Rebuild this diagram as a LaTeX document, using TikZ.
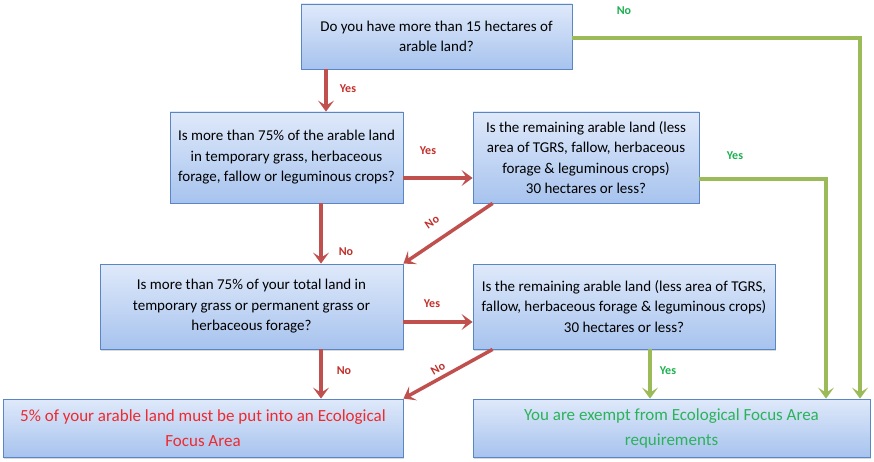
\documentclass[tikz,border=0pt]{standalone}
\usepackage{fontspec}
\setmainfont{Carlito}
\usetikzlibrary{arrows.meta,shadows}

\definecolor{boxtop}{HTML}{DFE9FA}
\definecolor{boxbot}{HTML}{A7C3EE}
\definecolor{boxline}{HTML}{5B86C4}
\definecolor{redarr}{HTML}{C0504D}
\definecolor{greenarr}{HTML}{9BBB59}
\definecolor{redlbl}{HTML}{C0302B}
\definecolor{greenlbl}{HTML}{1DAF50}
\definecolor{redtext}{HTML}{EE2A2F}
\definecolor{greentext}{HTML}{2BB35A}

\tikzset{
    qbox/.style={draw=boxline, line width=0.8pt, top color=boxtop, bottom color=boxbot,
        rectangle, inner sep=0pt, align=center,
        drop shadow={shadow xshift=1pt, shadow yshift=-1.5pt, opacity=0.3},
        font=\fontsize{15}{20.5}\selectfont},
    endbox/.style={qbox, font=\fontsize{17}{25}\selectfont},
    redline/.style={draw=redarr, line width=3.5pt, -{Stealth[length=11pt,width=16pt,inset=5pt]}},
    greenline/.style={draw=greenarr, line width=3.5pt, -{Stealth[length=11pt,width=16pt,inset=5pt]}},
    redlabel/.style={text=redlbl, font=\fontsize{12}{14}\selectfont\bfseries},
    greenlabel/.style={text=greenlbl, font=\fontsize{12}{14}\selectfont\bfseries}
}

\begin{document}
\begin{tikzpicture}[x=1pt, y=-1pt]
    \useasboundingbox (0,0) rectangle (874,462);

    % Draw the question boxes
    \node[qbox, minimum width=271pt, minimum height=65pt] (hect) at (436.5,36.5)
        {Do you have more than 15 hectares of\\arable land?};
    \node[qbox, minimum width=233pt, minimum height=91pt] (arable) at (286.5,157.5)
        {Is more than 75\% of the arable land\\in temporary grass, herbaceous\\forage, fallow or leguminous crops?};
    \node[qbox, minimum width=226pt, minimum height=91pt] (remainA) at (586,157.5)
        {Is the remaining arable land (less\\area of TGRS, fallow, herbaceous\\forage \& leguminous crops)\\30 hectares or less?};
    \node[qbox, minimum width=303pt, minimum height=85pt] (total) at (251.5,306.5)
        {Is more than 75\% of your total land in\\temporary grass or permanent grass or\\herbaceous forage?};
    \node[qbox, minimum width=302pt, minimum height=85pt] (remainB) at (624,306.5)
        {Is the remaining arable land (less area of TGRS,\\fallow, herbaceous forage \& leguminous crops)\\30 hectares or less?};

    % Draw the outcome boxes
    \node[endbox, minimum width=400pt, minimum height=58pt, text=redtext] (efa) at (203,428)
        {5\% of your arable land must be put into an Ecological\\Focus Area};
    \node[endbox, minimum width=397pt, minimum height=58pt, text=greentext] (exempt) at (671.5,428)
        {You are exempt from Ecological Focus Area\\requirements};

    % Draw the red arrows
    \draw[redline] (hect.south -| 326,0) -- (arable.north -| 326,0);
    \draw[redline] (arable.east |- 0,178) -- (remainA.west |- 0,178);
    \draw[redline] (arable.south -| 321,0) -- (total.north -| 321,0);
    \draw[redline] ([xshift=20pt]remainA.south west) -- (total.north east);
    \draw[redline] (total.east |- 0,322) -- (remainB.west |- 0,322);
    \draw[redline] (total.south -| 321,0) -- (efa.north -| 321,0);
    \draw[redline] ([xshift=20pt]remainB.south west) -- (efa.north east);

    % Draw the green arrows
    \draw[greenline] (hect.east |- 0,38) -| (exempt.north -| 860,0);
    \draw[greenline] (remainA.east |- 0,179) -| (exempt.north -| 826,0);
    \draw[greenline] (remainB.south -| 650,0) -- (exempt.north -| 650,0);

    % Arrow labels
    \foreach \name/\pos/\txt/\ang in {yesA/{(348,89)}/Yes/0, yesB/{(428,151)}/Yes/0,
        noA/{(346,252)}/No/0, noB/{(432,222)}/No/34, yesC/{(432,304)}/Yes/0,
        noC/{(344,371)}/No/0, noD/{(438,369)}/No/30}
        \node[redlabel, rotate=\ang] (\name) at \pos {\txt};
    \foreach \name/\pos/\txt in {noE/{(624,11)}/No, yesD/{(735,156)}/Yes, yesE/{(668,371)}/Yes}
        \node[greenlabel] (\name) at \pos {\txt};

\end{tikzpicture}
\end{document}
